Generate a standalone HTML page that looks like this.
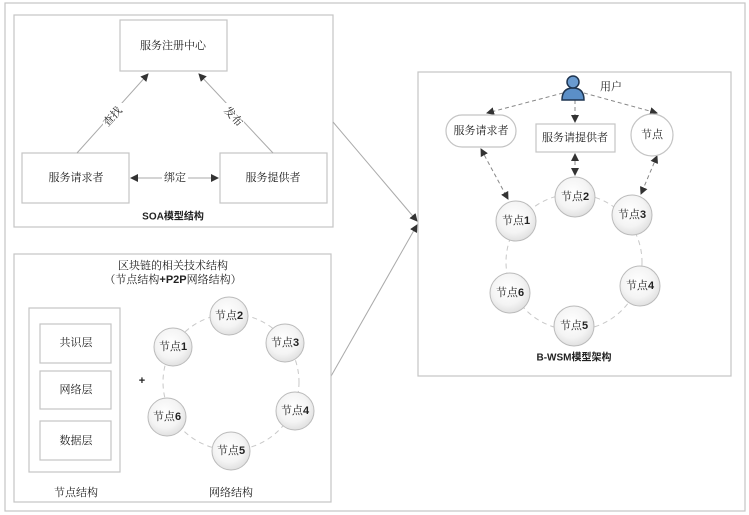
<!DOCTYPE html>
<html><head><meta charset="utf-8"><style>
body{margin:0;background:#fff}
svg{display:block}
text{font-family:"Liberation Sans","Noto Serif CJK SC","Noto Sans CJK SC",serif;font-size:11px;fill:#222;text-anchor:middle;dominant-baseline:central}
.b{font-family:"Liberation Sans","Noto Sans CJK SC",sans-serif;font-weight:bold}
.box{fill:#fff;stroke:#c4c4c4;stroke-width:1.2}
.ln{stroke:#aaa;stroke-width:1;fill:none}
.dl{stroke:#888;stroke-width:1;fill:none;stroke-dasharray:4 3}
.ring{stroke:#c8c8c8;stroke-width:1;fill:none;stroke-dasharray:5 4}
.c{fill:url(#g);stroke:#bbb;stroke-width:1}
</style></head><body>
<svg width="749" height="515" viewBox="0 0 749 515">
<defs>
<radialGradient id="g" cx="45%" cy="40%" r="65%"><stop offset="0" stop-color="#fff"/><stop offset="0.6" stop-color="#f4f4f4"/><stop offset="1" stop-color="#dcdcdc"/></radialGradient>
<marker id="a" markerWidth="8" markerHeight="8" refX="7" refY="4" orient="auto" markerUnits="userSpaceOnUse"><path d="M0,0L8,4L0,8z" fill="#333"/></marker>
<marker id="s" markerWidth="8" markerHeight="8" refX="1" refY="4" orient="auto" markerUnits="userSpaceOnUse"><path d="M8,0L0,4L8,8z" fill="#333"/></marker>
</defs>
<rect x="5" y="3" width="740" height="508" class="box"/>
<!-- SOA -->
<rect x="14" y="15" width="319" height="212" class="box"/>
<rect x="120" y="20" width="107" height="51" class="box"/>
<text x="173" y="46">服务注册中心</text>
<rect x="22" y="153" width="107" height="50" class="box"/>
<text x="76" y="178">服务请求者</text>
<rect x="220" y="153" width="107" height="50" class="box"/>
<text x="273" y="178">服务提供者</text>
<line x1="77" y1="153" x2="148" y2="74" class="ln" marker-end="url(#a)"/>
<line x1="273" y1="153" x2="199" y2="74" class="ln" marker-end="url(#a)"/>
<rect x="103" y="103" width="20" height="30" fill="#fff"/>
<text x="113" y="117" transform="rotate(-48 113 117)">查找</text>
<rect x="224" y="103" width="20" height="30" fill="#fff"/>
<text x="233" y="117" transform="rotate(48 233 117)">发布</text>
<line x1="131" y1="178" x2="218" y2="178" class="ln" marker-start="url(#s)" marker-end="url(#a)"/>
<rect x="162" y="170" width="26" height="16" fill="#fff"/>
<text x="175" y="178">绑定</text>
<text x="173" y="217" class="b" style="font-size:10px">SOA模型结构</text>
<!-- arrows to right -->
<line x1="333" y1="122" x2="417" y2="221" class="ln" marker-end="url(#a)"/>
<line x1="330" y1="378" x2="417" y2="225" class="ln" marker-end="url(#a)"/>
<!-- blockchain -->
<rect x="14" y="254" width="317" height="248" class="box"/>
<text x="173" y="266">区块链的相关技术结构</text>
<text x="173" y="280">（节点结构<tspan class="b">+P2P</tspan>网络结构）</text>
<rect x="29" y="308" width="91" height="164" class="box"/>
<rect x="40" y="324" width="71" height="39" class="box"/><text x="76" y="343">共识层</text>
<rect x="40" y="371" width="71" height="38" class="box"/><text x="76" y="390">网络层</text>
<rect x="40" y="421" width="71" height="39" class="box"/><text x="76" y="441">数据层</text>
<text x="76" y="493">节点结构</text>
<text x="142" y="381" class="b">+</text>
<circle cx="231" cy="382" r="68" class="ring"/>
<circle cx="229" cy="316" r="19" class="c"/><text x="229" y="316">节点<tspan class="b">2</tspan></text>
<circle cx="285" cy="343" r="19" class="c"/><text x="285" y="343">节点<tspan class="b">3</tspan></text>
<circle cx="295" cy="411" r="19" class="c"/><text x="295" y="411">节点<tspan class="b">4</tspan></text>
<circle cx="231" cy="451" r="19" class="c"/><text x="231" y="451">节点<tspan class="b">5</tspan></text>
<circle cx="167" cy="417" r="19" class="c"/><text x="167" y="417">节点<tspan class="b">6</tspan></text>
<circle cx="173" cy="347" r="19" class="c"/><text x="173" y="347">节点<tspan class="b">1</tspan></text>
<text x="231" y="493">网络结构</text>
<!-- B-WSM -->
<rect x="418" y="72" width="313" height="304" class="box"/>
<line x1="563" y1="93" x2="487" y2="113" class="dl" marker-end="url(#a)"/>
<line x1="575" y1="100" x2="575" y2="122" class="dl" marker-end="url(#a)"/>
<line x1="584" y1="93" x2="657" y2="113" class="dl" marker-end="url(#a)"/>
<line x1="481" y1="149" x2="508" y2="199" class="dl" marker-start="url(#s)" marker-end="url(#a)"/>
<line x1="575" y1="154" x2="575" y2="175" class="dl" marker-start="url(#s)" marker-end="url(#a)"/>
<line x1="657" y1="156" x2="641" y2="194" class="dl" marker-start="url(#s)" marker-end="url(#a)"/>
<circle cx="574" cy="262" r="68" class="ring"/>
<rect x="446" y="115" width="70" height="32" rx="16" class="box"/><text x="481" y="131">服务请求者</text>
<rect x="536" y="124" width="79" height="28" class="box"/><text x="575" y="138">服务请提供者</text>
<circle cx="652" cy="135" r="21" class="box"/><text x="652" y="135">节点</text>
<circle cx="575" cy="197" r="20" class="c"/><text x="575" y="197">节点<tspan class="b">2</tspan></text>
<circle cx="632" cy="215" r="20" class="c"/><text x="632" y="215">节点<tspan class="b">3</tspan></text>
<circle cx="640" cy="286" r="20" class="c"/><text x="640" y="286">节点<tspan class="b">4</tspan></text>
<circle cx="574" cy="326" r="20" class="c"/><text x="574" y="326">节点<tspan class="b">5</tspan></text>
<circle cx="510" cy="293" r="20" class="c"/><text x="510" y="293">节点<tspan class="b">6</tspan></text>
<circle cx="516" cy="221" r="20" class="c"/><text x="516" y="221">节点<tspan class="b">1</tspan></text>
<text x="574" y="358" class="b" style="font-size:10px">B-WSM模型架构</text>
<!-- user icon -->
<path d="M562,100 Q562,88 573,88 Q584,88 584,100 Z" fill="#5b8fc7" stroke="#1f3550" stroke-width="1.5"/>
<circle cx="573" cy="82" r="6" fill="#6a9bd0" stroke="#1f3550" stroke-width="1.5"/>
<text x="611" y="87">用户</text>
</svg>
</body></html>
